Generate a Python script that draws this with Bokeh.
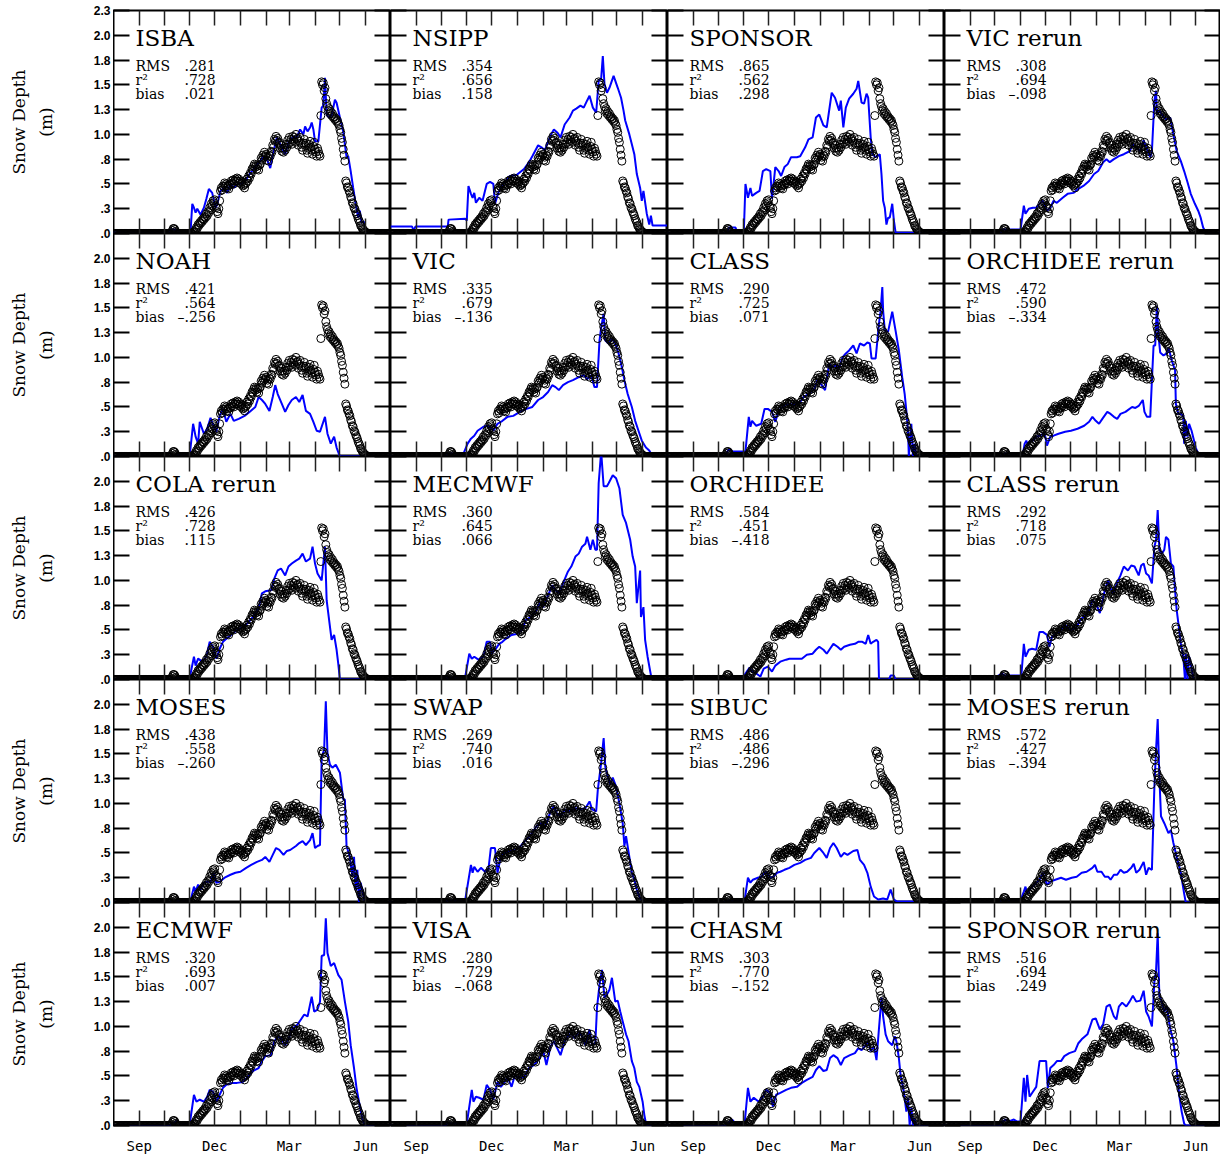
import math
from bokeh.plotting import figure
from bokeh.layouts import gridplot, row
from bokeh.models import LinearAxis, FixedTicker, Range1d, Label
from bokeh.core.properties import value
from bokeh.embed import file_html
from bokeh.resources import INLINE

# ---------------- axis definitions ----------------
month_ticks = [31, 61, 92, 122, 153, 184, 212, 243, 273, 304]   # days since 1 Aug
month_names = {31: "Sep", 122: "Dec", 212: "Mar", 304: "Jun"}
depth_ticks = [0.0, 0.25, 0.5, 0.75, 1.0, 1.25, 1.5, 1.75, 2.0, 2.25]
depth_tick_labels = [".0", ".3", ".5", ".8", "1.0", "1.3", "1.5", "1.8", "2.0", "2.3"]
y_title_lines = ["Snow Depth", "(m)"]

# ---------------- observed snow depth (m), daily from 1 Aug ----------------
obs_day = list(range(0, 335))
obs_depth = [
    0, 0, 0, 0, 0, 0, 0, 0, 0, 0,
    0, 0, 0, 0, 0, 0, 0, 0, 0, 0,
    0, 0, 0, 0, 0, 0, 0, 0, 0, 0,
    0, 0, 0, 0, 0, 0, 0, 0, 0, 0,
    0, 0, 0, 0, 0, 0, 0, 0, 0, 0,
    0, 0, 0, 0, 0, 0, 0, 0, 0, 0,
    0, 0, 0, 0, 0, 0, 0, 0, 0, 0,
    0.01, 0.03, 0.05, 0.05, 0.04, 0.02, 0.01, 0, 0, 0,
    0, 0, 0, 0, 0, 0, 0, 0, 0, 0,
    0, 0, 0, 0, 0, 0, 0.01, 0.02, 0.01, 0.04,
    0.06, 0.05, 0.09, 0.08, 0.11, 0.10, 0.13, 0.12, 0.15, 0.14,
    0.17, 0.16, 0.20, 0.18, 0.22, 0.21, 0.26, 0.24, 0.30, 0.28,
    0.33, 0.31, 0.34, 0.28, 0.26, 0.22, 0.20, 0.25, 0.33, 0.43,
    0.46, 0.44, 0.48, 0.47, 0.51, 0.48, 0.50, 0.46, 0.48, 0.45,
    0.50, 0.49, 0.53, 0.51, 0.54, 0.50, 0.53, 0.55, 0.53, 0.56,
    0.53, 0.55, 0.51, 0.53, 0.50, 0.52, 0.48, 0.49, 0.46, 0.50,
    0.51, 0.55, 0.53, 0.58, 0.56, 0.61, 0.60, 0.65, 0.64, 0.68,
    0.70, 0.67, 0.69, 0.65, 0.68, 0.64, 0.69, 0.70, 0.76, 0.74,
    0.79, 0.77, 0.82, 0.78, 0.80, 0.74, 0.77, 0.73, 0.79, 0.78,
    0.83, 0.82, 0.89, 0.87, 0.95, 0.93, 0.98, 0.94, 0.96, 0.91,
    0.92, 0.86, 0.89, 0.83, 0.86, 0.82, 0.86, 0.84, 0.90, 0.87,
    0.94, 0.90, 0.97, 0.92, 0.95, 0.90, 0.98, 0.94, 0.97, 0.92,
    1.00, 0.95, 0.96, 0.89, 0.93, 0.97, 0.91, 0.87, 0.84, 0.91,
    0.95, 0.89, 0.91, 0.84, 0.81, 0.86, 0.90, 0.93, 0.87, 0.84,
    0.80, 0.88, 0.92, 0.85, 0.82, 0.78, 0.86, 0.83, 0.80, 0.78,
    1.19, 1.53, 1.50, 1.52, 1.44, 1.47, 1.36, 1.31, 1.28, 1.24,
    1.26, 1.21, 1.23, 1.19, 1.21, 1.17, 1.18, 1.15, 1.16, 1.13,
    1.14, 1.11, 1.09, 1.05, 1.02, 0.96, 0.92, 0.85, 0.79, 0.73,
    0.53, 0.51, 0.47, 0.46, 0.43, 0.41, 0.37, 0.35, 0.31, 0.30,
    0.26, 0.25, 0.22, 0.20, 0.18, 0.15, 0.13, 0.11, 0.08, 0.07,
    0.05, 0.04, 0.03, 0.02, 0.01, 0.01, 0, 0, 0, 0,
    0, 0, 0, 0, 0, 0, 0, 0, 0, 0,
    0, 0, 0, 0, 0, 0, 0, 0, 0, 0,
    0, 0, 0, 0, 0,
]

# ---------------- model snow depth (day, m) ----------------
isba = [(0, 0.01), (66, 0.01), (68, 0.04), (73, 0.04), (76, 0.03), (93, 0.03), (95, 0.30), (97, 0.26), (99, 0.21),
        (101, 0.25), (105, 0.19), (109, 0.26), (112, 0.35), (115, 0.45), (119, 0.41), (123, 0.26), (125, 0.29),
        (129, 0.43), (133, 0.46), (137, 0.41), (141, 0.50), (145, 0.46), (151, 0.51), (155, 0.50), (161, 0.56),
        (165, 0.61), (169, 0.65), (173, 0.70), (177, 0.73), (181, 0.78), (185, 0.75), (189, 0.66), (193, 0.83),
        (197, 0.97), (201, 0.90), (207, 0.80), (211, 0.92), (217, 0.98), (221, 0.97), (225, 1.05), (229, 1.00),
        (231, 1.08), (234, 1.03), (237, 1.07), (239, 1.12), (241, 1.05), (243, 0.93), (247, 0.93), (251, 1.27),
        (253, 1.29), (255, 1.57), (257, 1.20), (260, 1.17), (263, 1.19), (267, 1.35), (269, 1.32), (273, 1.17),
        (277, 1.03), (281, 0.77), (283, 0.78), (286, 0.63), (289, 0.46), (292, 0.30), (295, 0.16), (297, 0.23),
        (299, 0.11), (302, 0.12), (305, 0.0), (334, 0.0)]
nsipp = [(0, 0.07), (26, 0.07), (28, 0.03), (30, 0.07), (69, 0.07), (70, 0.14), (90, 0.15), (92, 0.13), (94, 0.48),
         (97, 0.40), (99, 0.36), (101, 0.41), (103, 0.31), (107, 0.36), (111, 0.33), (116, 0.50), (120, 0.52),
         (124, 0.50), (126, 0.30), (130, 0.41), (134, 0.48), (144, 0.58), (152, 0.59), (161, 0.65), (167, 0.72),
         (171, 0.78), (178, 0.89), (182, 0.87), (186, 0.84), (193, 0.99), (197, 1.05), (201, 1.02), (205, 0.97),
         (210, 1.10), (216, 1.17), (220, 1.24), (224, 1.26), (229, 1.29), (233, 1.27), (237, 1.34), (240, 1.39),
         (244, 1.27), (248, 1.22), (251, 1.54), (254, 1.56), (256, 1.79), (258, 1.51), (261, 1.42), (264, 1.47),
         (269, 1.59), (274, 1.47), (278, 1.37), (281, 1.24), (283, 1.14), (288, 1.00), (291, 0.90), (294, 0.80),
         (297, 0.60), (301, 0.46), (303, 0.33), (305, 0.43), (309, 0.20), (312, 0.09), (314, 0.18), (316, 0.08),
         (334, 0.08)]
sponsor = [(0, 0), (72, 0), (74, 0.06), (82, 0.06), (84, 0.01), (92, 0.01), (94, 0.50), (97, 0.36), (100, 0.46),
           (102, 0.38), (107, 0.41), (111, 0.43), (115, 0.63), (119, 0.65), (124, 0.63), (126, 0.35), (130, 0.67),
           (134, 0.63), (137, 0.58), (141, 0.67), (145, 0.70), (149, 0.77), (156, 0.77), (160, 0.78), (166, 0.87),
           (170, 0.95), (175, 0.97), (179, 1.17), (183, 1.20), (188, 1.09), (192, 1.07), (198, 1.42), (202, 1.37),
           (207, 1.24), (209, 1.34), (212, 1.07), (215, 1.27), (219, 1.36), (224, 1.41), (228, 1.46), (230, 1.54),
           (234, 1.32), (237, 1.31), (240, 1.41), (242, 1.37), (245, 0.97), (247, 0.80), (251, 0.77), (256, 0.80),
           (258, 0.60), (260, 0.33), (262, 0.26), (264, 0.09), (266, 0.16), (268, 0.16), (271, 0.30), (273, 0.13),
           (275, 0.01), (334, 0)]
vic_rerun = [(0, 0), (68, 0), (70, 0.04), (92, 0.04), (96, 0.28), (98, 0.20), (102, 0.25), (107, 0.26), (111, 0.26),
             (115, 0.30), (119, 0.33), (124, 0.23), (128, 0.26), (132, 0.33), (136, 0.31), (143, 0.36), (149, 0.40),
             (156, 0.41), (162, 0.45), (168, 0.48), (175, 0.53), (181, 0.60), (186, 0.63), (192, 0.72), (196, 0.75),
             (200, 0.72), (205, 0.75), (211, 0.78), (217, 0.80), (224, 0.83), (228, 0.90), (232, 0.87), (237, 0.83),
             (241, 0.94), (245, 0.85), (249, 0.77), (251, 0.83), (254, 1.34), (256, 1.44), (257, 1.20), (260, 1.24),
             (264, 1.19), (268, 1.15), (273, 1.17), (277, 1.00), (281, 0.83), (286, 0.73), (290, 0.63), (294, 0.52),
             (298, 0.40), (303, 0.30), (307, 0.23), (310, 0.16), (313, 0.06), (315, 0.03), (320, 0), (334, 0)]
noah = [(0, 0), (74, 0), (75, 0.02), (92, 0.02), (96, 0.33), (99, 0.20), (102, 0.13), (104, 0.35), (109, 0.23),
        (113, 0.28), (117, 0.39), (121, 0.30), (124, 0.25), (128, 0.41), (132, 0.48), (136, 0.35), (141, 0.43),
        (145, 0.36), (151, 0.38), (158, 0.41), (164, 0.45), (171, 0.50), (175, 0.60), (179, 0.57), (183, 0.53),
        (188, 0.46), (192, 0.60), (195, 0.72), (198, 0.63), (203, 0.53), (207, 0.45), (211, 0.52), (215, 0.57),
        (220, 0.60), (224, 0.55), (228, 0.62), (232, 0.46), (237, 0.43), (241, 0.35), (245, 0.26), (249, 0.25),
        (255, 0.40), (258, 0.23), (262, 0.13), (266, 0.20), (269, 0.09), (273, 0), (334, 0)]
vic = [(0, 0), (67, 0), (68, 0.03), (88, 0.03), (93, 0.13), (97, 0.18), (101, 0.21), (105, 0.26), (112, 0.30),
       (116, 0.31), (120, 0.30), (124, 0.26), (129, 0.33), (135, 0.36), (141, 0.40), (148, 0.41), (156, 0.45),
       (164, 0.48), (171, 0.50), (178, 0.57), (184, 0.60), (190, 0.65), (195, 0.72), (199, 0.70), (203, 0.67),
       (208, 0.72), (214, 0.75), (220, 0.77), (227, 0.80), (233, 0.82), (237, 0.78), (242, 0.82), (246, 0.70),
       (249, 0.70), (252, 1.17), (254, 1.30), (257, 1.44), (259, 1.17), (263, 1.14), (267, 1.19), (271, 1.14),
       (275, 1.04), (279, 0.90), (282, 0.77), (286, 0.63), (291, 0.50), (295, 0.36), (299, 0.26), (303, 0.16),
       (308, 0.09), (312, 0.06), (316, 0), (334, 0)]
class_ = [(0, 0), (70, 0), (72, 0.05), (75, 0.08), (78, 0.05), (94, 0.05), (98, 0.40), (100, 0.30), (102, 0.36),
          (107, 0.31), (113, 0.33), (117, 0.48), (121, 0.48), (126, 0.45), (130, 0.35), (134, 0.46), (141, 0.52),
          (147, 0.53), (153, 0.52), (160, 0.55), (164, 0.60), (170, 0.63), (177, 0.68), (181, 0.78), (185, 0.73),
          (190, 0.67), (195, 0.94), (198, 0.90), (204, 0.92), (207, 0.89), (211, 1.00), (215, 1.04), (219, 1.07),
          (224, 1.12), (228, 1.04), (232, 1.14), (237, 1.12), (241, 1.15), (244, 1.14), (246, 0.99), (251, 0.99),
          (255, 1.34), (257, 1.47), (259, 1.71), (260, 1.47), (262, 1.27), (266, 1.26), (271, 1.46), (275, 1.27),
          (279, 1.07), (283, 0.80), (286, 0.63), (288, 0.46), (290, 0.26), (291, 0.0), (294, 0.33), (296, 0.0),
          (298, 0.13), (300, 0.0), (334, 0)]
orchidee_rerun = [(0, 0), (71, 0), (73, 0.03), (95, 0.03), (97, 0.13), (99, 0.16), (101, 0.11), (103, 0.15),
                  (107, 0.16), (111, 0.20), (115, 0.21), (120, 0.23), (122, 0.20), (124, 0.11), (128, 0.20),
                  (132, 0.21), (138, 0.23), (146, 0.25), (153, 0.26), (161, 0.28), (169, 0.31), (175, 0.35),
                  (179, 0.40), (183, 0.36), (187, 0.33), (191, 0.38), (197, 0.45), (201, 0.43), (205, 0.40),
                  (209, 0.38), (213, 0.43), (219, 0.45), (227, 0.50), (231, 0.49), (235, 0.51), (240, 0.57),
                  (242, 0.45), (245, 0.40), (249, 0.40), (251, 0.77), (253, 1.12), (255, 1.12), (257, 1.52),
                  (259, 1.22), (261, 1.05), (265, 1.02), (269, 1.04), (271, 1.10), (275, 0.97), (279, 0.87),
                  (280, 0.53), (283, 0.43), (286, 0.43), (289, 0.41), (290, 0.13), (292, 0.36), (294, 0.20),
                  (296, 0.33), (299, 0.26), (302, 0.16), (304, 0.09), (307, 0.03), (311, 0), (334, 0)]
cola_rerun = [(0, 0), (74, 0), (75, 0.02), (92, 0.02), (97, 0.23), (99, 0.14), (102, 0.21), (107, 0.18), (112, 0.23),
              (116, 0.38), (120, 0.33), (124, 0.21), (128, 0.31), (132, 0.38), (136, 0.41), (143, 0.46), (149, 0.50),
              (156, 0.53), (162, 0.57), (168, 0.63), (175, 0.72), (179, 0.87), (183, 0.89), (190, 0.90), (194, 1.02),
              (198, 1.10), (202, 1.12), (207, 1.05), (211, 1.14), (215, 1.17), (220, 1.20), (224, 1.22), (228, 1.27),
              (232, 1.19), (237, 1.22), (240, 1.34), (243, 1.17), (246, 1.07), (251, 1.00), (255, 1.34), (257, 0.80),
              (260, 0.60), (263, 0.40), (266, 0.45), (269, 0.30), (271, 0.16), (273, 0), (334, 0)]
mecmwf = [(0, 0), (60, 0), (61, 0.02), (90, 0.02), (95, 0.26), (98, 0.21), (101, 0.23), (106, 0.20), (112, 0.23),
          (116, 0.38), (120, 0.38), (122, 0.26), (127, 0.31), (131, 0.36), (135, 0.38), (139, 0.41), (146, 0.45),
          (152, 0.46), (159, 0.50), (163, 0.60), (169, 0.63), (176, 0.70), (180, 0.77), (184, 0.73), (191, 0.87),
          (195, 0.95), (199, 0.90), (204, 0.87), (208, 0.97), (214, 1.09), (218, 1.14), (223, 1.24), (227, 1.27),
          (231, 1.34), (235, 1.37), (237, 1.44), (241, 1.31), (244, 1.41), (247, 1.31), (249, 1.31), (251, 1.98),
          (254, 2.30), (257, 1.95), (261, 1.95), (263, 1.98), (268, 2.06), (272, 2.03), (276, 1.93), (280, 1.66),
          (284, 1.58), (289, 1.41), (292, 1.24), (295, 1.14), (297, 0.77), (301, 1.10), (302, 0.63), (305, 0.73),
          (307, 0.40), (310, 0.23), (313, 0.09), (315, 0), (334, 0)]
orchidee = [(0, 0), (90, 0), (94, 0.06), (99, 0.12), (102, 0.08), (107, 0.06), (112, 0.03), (116, 0.11), (121, 0.13),
            (126, 0.08), (130, 0.14), (136, 0.18), (143, 0.20), (147, 0.21), (153, 0.21), (162, 0.21), (168, 0.25),
            (175, 0.26), (179, 0.30), (183, 0.33), (188, 0.30), (192, 0.26), (196, 0.31), (200, 0.36), (205, 0.33),
            (209, 0.30), (213, 0.33), (220, 0.35), (226, 0.36), (230, 0.38), (235, 0.38), (239, 0.36), (242, 0.45),
            (245, 0.36), (248, 0.38), (252, 0.40), (254, 0.38), (255, 0), (267, 0), (269, 0.04), (273, 0.04),
            (275, 0), (334, 0)]
class_rerun = [(0, 0), (64, 0), (65, 0.04), (70, 0.06), (72, 0.04), (93, 0.04), (96, 0.36), (98, 0.23), (102, 0.30),
               (106, 0.31), (111, 0.30), (115, 0.48), (119, 0.48), (124, 0.45), (127, 0.33), (130, 0.43), (134, 0.46),
               (139, 0.48), (145, 0.55), (149, 0.53), (154, 0.50), (160, 0.53), (164, 0.60), (171, 0.65), (175, 0.70),
               (179, 0.80), (183, 0.77), (188, 0.67), (194, 0.90), (198, 1.00), (201, 0.92), (204, 0.87), (209, 0.98),
               (213, 1.05), (217, 1.14), (222, 1.10), (226, 1.15), (230, 1.14), (235, 1.05), (238, 1.15), (241, 1.17),
               (244, 1.07), (247, 1.05), (251, 0.97), (254, 1.34), (256, 1.41), (258, 1.71), (260, 1.31), (263, 1.27),
               (266, 1.31), (268, 1.44), (271, 1.41), (274, 1.17), (277, 1.14), (279, 0.90), (281, 0.70), (283, 0.57),
               (286, 0.36), (289, 0.23), (291, 0), (292, 0.26), (294, 0), (296, 0.23), (298, 0.16), (301, 0.02),
               (303, 0), (334, 0)]
moses = [(0, 0), (74, 0), (75, 0.02), (93, 0.02), (97, 0.16), (99, 0.11), (102, 0.18), (105, 0.13), (109, 0.20),
         (113, 0.21), (117, 0.21), (121, 0.30), (124, 0.20), (128, 0.21), (134, 0.25), (141, 0.28), (147, 0.30),
         (153, 0.31), (160, 0.35), (166, 0.38), (173, 0.41), (179, 0.43), (183, 0.46), (188, 0.41), (192, 0.48),
         (196, 0.55), (200, 0.53), (205, 0.48), (209, 0.52), (213, 0.53), (220, 0.57), (224, 0.60), (228, 0.62),
         (232, 0.58), (237, 0.63), (240, 0.70), (243, 0.55), (246, 0.57), (249, 0.58), (251, 1.47), (254, 1.54),
         (256, 2.03), (258, 1.51), (261, 1.39), (264, 1.36), (268, 1.39), (273, 1.31), (277, 1.04), (279, 1.04),
         (281, 0.57), (285, 0.46), (288, 0.26), (290, 0.46), (292, 0.13), (294, 0.33), (296, 0), (298, 0.20),
         (300, 0.13), (303, 0), (334, 0)]
swap = [(0, 0), (67, 0), (68, 0.02), (90, 0.02), (97, 0.38), (99, 0.30), (101, 0.36), (105, 0.31), (109, 0.35),
        (114, 0.31), (118, 0.33), (121, 0.55), (126, 0.55), (129, 0.30), (133, 0.46), (137, 0.50), (144, 0.52),
        (150, 0.53), (157, 0.57), (163, 0.63), (169, 0.68), (176, 0.77), (182, 0.80), (186, 0.75), (193, 0.92),
        (197, 0.97), (201, 0.89), (206, 0.87), (210, 0.94), (216, 0.92), (223, 0.95), (229, 0.94), (235, 0.95),
        (240, 1.02), (243, 0.94), (248, 0.92), (250, 1.14), (254, 1.41), (257, 1.66), (259, 1.37), (262, 1.27),
        (265, 1.19), (268, 1.26), (272, 1.17), (276, 1.00), (280, 0.80), (282, 0.57), (284, 0.67), (288, 0.46),
        (291, 0.30), (294, 0.23), (297, 0.13), (301, 0.04), (306, 0), (334, 0)]
sibuc = [(0, 0), (72, 0), (73, 0.02), (93, 0.02), (97, 0.25), (100, 0.20), (103, 0.23), (109, 0.25), (113, 0.26),
         (119, 0.31), (124, 0.25), (128, 0.26), (132, 0.30), (136, 0.31), (141, 0.33), (147, 0.35), (153, 0.38),
         (160, 0.40), (166, 0.43), (173, 0.45), (177, 0.50), (183, 0.55), (188, 0.50), (192, 0.45), (196, 0.55),
         (200, 0.60), (204, 0.55), (209, 0.46), (213, 0.50), (217, 0.48), (224, 0.52), (229, 0.53), (232, 0.43),
         (237, 0.38), (241, 0.30), (245, 0.16), (249, 0.06), (254, 0.03), (260, 0.04), (265, 0.03), (269, 0.13),
         (273, 0.03), (277, 0.01), (300, 0.01), (302, 0), (334, 0)]
moses_rerun = [(0, 0), (66, 0), (67, 0.02), (92, 0.02), (96, 0.11), (98, 0.16), (100, 0.09), (104, 0.14), (109, 0.18),
               (115, 0.23), (119, 0.30), (124, 0.18), (128, 0.21), (134, 0.23), (141, 0.25), (147, 0.23), (154, 0.25),
               (160, 0.26), (166, 0.30), (172, 0.31), (179, 0.35), (182, 0.38), (185, 0.31), (190, 0.31), (194, 0.26),
               (198, 0.26), (201, 0.23), (205, 0.28), (209, 0.28), (213, 0.33), (217, 0.30), (221, 0.31), (226, 0.35),
               (229, 0.39), (232, 0.30), (236, 0.33), (241, 0.41), (244, 0.28), (247, 0.35), (251, 0.33), (254, 1.17),
               (256, 1.54), (258, 1.85), (260, 1.27), (262, 0.87), (266, 0.80), (271, 0.70), (274, 0.73), (277, 0.60),
               (281, 0.46), (286, 0.30), (290, 0.09), (292, 0), (334, 0)]
ecmwf = [(0, 0), (68, 0), (70, 0.02), (72, 0.02), (77, 0.05), (80, 0.02), (92, 0.02), (97, 0.31), (100, 0.24),
         (104, 0.26), (109, 0.24), (113, 0.29), (116, 0.36), (120, 0.34), (124, 0.24), (128, 0.31), (132, 0.38),
         (136, 0.41), (143, 0.43), (149, 0.43), (156, 0.44), (162, 0.49), (168, 0.55), (175, 0.58), (179, 0.65),
         (183, 0.70), (190, 0.71), (194, 0.85), (198, 0.90), (202, 0.88), (207, 0.81), (211, 0.87), (215, 0.97),
         (222, 1.02), (226, 1.07), (230, 1.12), (234, 1.10), (239, 1.30), (242, 1.15), (246, 1.17), (249, 1.25),
         (251, 1.71), (254, 1.72), (256, 2.09), (258, 1.74), (262, 1.61), (266, 1.64), (271, 1.52), (275, 1.47),
         (279, 1.25), (283, 1.05), (286, 0.81), (290, 0.58), (293, 0.38), (296, 0.24), (300, 0.07), (303, 0), (334, 0)]
visa = [(0, 0), (67, 0), (68, 0.02), (92, 0.02), (98, 0.36), (100, 0.24), (103, 0.29), (107, 0.28), (112, 0.26),
        (116, 0.41), (120, 0.36), (124, 0.26), (129, 0.44), (133, 0.39), (137, 0.43), (141, 0.49), (146, 0.39),
        (150, 0.51), (154, 0.48), (161, 0.49), (167, 0.58), (173, 0.61), (180, 0.68), (184, 0.76), (188, 0.61),
        (193, 0.80), (197, 0.85), (201, 0.78), (205, 0.71), (210, 0.85), (214, 0.90), (218, 0.93), (222, 0.88),
        (227, 0.95), (231, 0.90), (235, 0.81), (240, 0.97), (243, 0.81), (247, 0.83), (249, 1.19), (252, 1.42),
        (255, 1.57), (258, 1.29), (261, 1.32), (264, 1.37), (267, 1.49), (271, 1.25), (274, 1.26), (277, 1.15),
        (280, 1.05), (284, 0.92), (287, 0.85), (291, 0.65), (294, 0.58), (297, 0.44), (300, 0.39), (304, 0.24),
        (306, 0.11), (308, 0.02), (310, 0), (334, 0)]
chasm = [(0, 0), (70, 0), (72, 0.02), (78, 0.06), (82, 0.02), (93, 0.02), (97, 0.38), (100, 0.24), (104, 0.28),
         (110, 0.24), (115, 0.29), (119, 0.36), (124, 0.33), (127, 0.19), (131, 0.31), (136, 0.33), (143, 0.36),
         (149, 0.38), (156, 0.39), (162, 0.43), (168, 0.46), (175, 0.49), (179, 0.56), (183, 0.60), (188, 0.55),
         (192, 0.56), (196, 0.68), (200, 0.71), (205, 0.68), (209, 0.61), (213, 0.68), (220, 0.71), (226, 0.73),
         (230, 0.78), (234, 0.76), (239, 0.81), (242, 0.85), (245, 0.75), (249, 0.80), (252, 0.66), (255, 0.98),
         (258, 1.29), (260, 1.10), (263, 0.92), (266, 0.85), (271, 0.81), (274, 0.90), (276, 0.85), (279, 0.68),
         (281, 0.51), (285, 0.34), (288, 0.14), (290, 0.28), (292, 0), (294, 0.18), (296, 0), (298, 0.07), (300, 0),
         (334, 0)]
sponsor_rerun = [(0, 0), (68, 0), (70, 0.04), (74, 0.06), (78, 0.04), (84, 0.06), (88, 0.04), (92, 0.04), (96, 0.48),
                 (98, 0.24), (100, 0.51), (103, 0.29), (107, 0.34), (111, 0.39), (115, 0.65), (119, 0.65), (123, 0.65),
                 (125, 0.38), (128, 0.58), (132, 0.61), (136, 0.65), (141, 0.65), (145, 0.70), (151, 0.73), (158, 0.75),
                 (162, 0.83), (166, 0.87), (173, 0.92), (179, 1.07), (183, 1.08), (188, 0.97), (192, 1.02), (196, 1.20),
                 (200, 1.22), (205, 1.10), (208, 1.07), (211, 1.20), (215, 1.24), (220, 1.20), (224, 1.25), (228, 1.31),
                 (232, 1.25), (237, 1.26), (241, 1.36), (244, 1.15), (247, 1.10), (251, 1.00), (254, 1.45), (256, 1.56),
                 (258, 1.94), (260, 1.31), (263, 1.25), (266, 1.15), (269, 1.20), (273, 0.98), (277, 0.85), (281, 0.58),
                 (284, 0.31), (287, 0.14), (290, 0.02), (292, 0), (334, 0)]

# ---------------- panel order and statistics ----------------
model_names = ["ISBA", "NSIPP", "SPONSOR", "VIC rerun",
               "NOAH", "VIC", "CLASS", "ORCHIDEE rerun",
               "COLA rerun", "MECMWF", "ORCHIDEE", "CLASS rerun",
               "MOSES", "SWAP", "SIBUC", "MOSES rerun",
               "ECMWF", "VISA", "CHASM", "SPONSOR rerun"]
model_series = [isba, nsipp, sponsor, vic_rerun,
                noah, vic, class_, orchidee_rerun,
                cola_rerun, mecmwf, orchidee, class_rerun,
                moses, swap, sibuc, moses_rerun,
                ecmwf, visa, chasm, sponsor_rerun]
rms_vals = [0.281, 0.354, 0.865, 0.308, 0.421, 0.335, 0.290, 0.472, 0.426, 0.360,
            0.584, 0.292, 0.438, 0.269, 0.486, 0.572, 0.320, 0.280, 0.303, 0.516]
r2_vals = [0.728, 0.656, 0.562, 0.694, 0.564, 0.679, 0.725, 0.590, 0.728, 0.645,
           0.451, 0.718, 0.558, 0.740, 0.486, 0.427, 0.693, 0.729, 0.770, 0.694]
bias_vals = [0.021, 0.158, 0.298, -0.098, -0.256, -0.136, 0.071, -0.334, 0.115, 0.066,
             -0.418, 0.075, -0.260, 0.016, -0.296, -0.394, 0.007, -0.068, -0.152, 0.249]

# ---------------- layout constants ----------------
N_ROWS, N_COLS = 5, 4
FRAME_W = [277, 277, 277, 276]
FRAME_H = 223
TOP_PAD, BOTTOM_PAD, LEFT_W = 10, 29, 113
X_START, X_END = 0, 334
Y_START, Y_END = 0.0, 2.25
PX_PER_M = FRAME_H / (Y_END - Y_START)
SERIF = "DejaVu Serif"


def fmt(v):
    s = "%.3f" % abs(v)
    s = s[1:] if s.startswith("0") else s
    return ("\u2013" + s) if v < 0 else s


def tick_style(ax, ticks, length, width, color):
    ax.ticker = FixedTicker(ticks=ticks, minor_ticks=[])
    ax.major_tick_in = length
    ax.major_tick_out = 0
    ax.minor_tick_in = 0
    ax.minor_tick_out = 0
    ax.minor_tick_line_color = None
    ax.major_tick_line_color = color
    ax.major_tick_line_width = width
    ax.axis_line_color = None


def hide_labels(ax, ticks):
    ax.major_label_overrides = {t: "" for t in ticks}
    ax.major_label_text_font_size = "0px"
    ax.major_label_standoff = 0


# ---------------- left strip: depth tick labels and y titles for all rows ----------------
stack_h = N_ROWS * (Y_END - Y_START)
left = figure(frame_width=LEFT_W, frame_height=TOP_PAD + N_ROWS * FRAME_H + BOTTOM_PAD,
              x_range=Range1d(0, LEFT_W),
              y_range=Range1d(-BOTTOM_PAD / PX_PER_M, stack_h + TOP_PAD / PX_PER_M),
              output_backend="svg", toolbar_location=None, tools="", title=None, min_border=0,
              x_axis_type=None, y_axis_type=None)
left.outline_line_color = None
left.background_fill_color = "white"
left.border_fill_color = "white"
lab_y, lab_text = [], []
for r in range(N_ROWS):
    base = (N_ROWS - 1 - r) * (Y_END - Y_START)
    for t, lab in zip(depth_ticks, depth_tick_labels):
        if r > 0 and t == Y_END:
            continue   # same place as the ".0" of the panel above
        lab_y.append(base + t)
        lab_text.append(lab)
left.text(x=[LEFT_W - 3] * len(lab_y), y=lab_y, text=lab_text,
          text_font=value("Liberation Sans"), text_font_style="bold", text_font_size="12px",
          text_color="black", text_align="right", text_baseline="middle")
row_mid = [(N_ROWS - 1 - r) * (Y_END - Y_START) + (Y_END - Y_START) / 2 for r in range(N_ROWS)]
for line_text, xpos in zip(y_title_lines, (18, 45)):
    left.text(x=[xpos] * N_ROWS, y=row_mid, text=[line_text] * N_ROWS, angle=math.pi / 2,
              text_font=value(SERIF), text_font_size="17px", text_color="black",
              text_align="center", text_baseline="middle")

# ---------------- the 20 panels ----------------
figs = []
for i, name in enumerate(model_names):
    r, c = divmod(i, N_COLS)
    fw = FRAME_W[c]
    days = [d for d, _ in model_series[i]]
    depth = [v for _, v in model_series[i]]

    p = figure(frame_width=fw, frame_height=FRAME_H,
               x_range=Range1d(X_START, X_END), y_range=Range1d(Y_START, Y_END),
               output_backend="svg", toolbar_location=None, tools="", title=None, min_border=0)
    p.min_border_left = 0
    p.min_border_right = 0
    p.min_border_top = TOP_PAD if r == 0 else 0
    p.min_border_bottom = BOTTOM_PAD if r == N_ROWS - 1 else 0
    p.xgrid.visible = False
    p.ygrid.visible = False
    p.outline_line_color = "black"
    p.outline_line_width = 2
    p.background_fill_color = "white"
    p.border_fill_color = "white"

    # bottom axis
    xa = p.xaxis[0]
    tick_style(xa, month_ticks, 15, 1.5, "#222222")
    if r == N_ROWS - 1:
        xa.major_label_overrides = {t: month_names.get(t, "") for t in month_ticks}
        xa.major_label_text_font = "DejaVu Sans Mono"
        xa.major_label_text_font_size = "14px"
        xa.major_label_text_color = "black"
        xa.major_label_standoff = 12
    else:
        hide_labels(xa, month_ticks)
    # top axis
    ta = LinearAxis()
    tick_style(ta, month_ticks, 15, 1.5, "#222222")
    hide_labels(ta, month_ticks)
    p.add_layout(ta, "above")
    # left and right axes (ticks only; the labels are in the left strip)
    ya = p.yaxis[0]
    tick_style(ya, depth_ticks, 16, 2, "black")
    hide_labels(ya, depth_ticks)
    ra = LinearAxis()
    tick_style(ra, depth_ticks, 16, 2, "black")
    hide_labels(ra, depth_ticks)
    p.add_layout(ra, "right")

    # data
    p.line(days, depth, line_color="#0000ff", line_width=2)
    p.scatter(obs_day, obs_depth, marker="circle", size=8, fill_color=None,
              line_color="black", line_width=1)

    # texts (positioned in pixels from the frame's top-left corner)
    def px_x(px):
        return X_START + px * (X_END - X_START) / fw

    def px_y(px):
        return Y_END - px * (Y_END - Y_START) / FRAME_H

    p.add_layout(Label(x=px_x(22), y=px_y(27), text=name, text_font=SERIF,
                       text_font_size="23px", text_color="black", text_baseline="alphabetic"))
    stats = [("RMS", rms_vals[i]), ("r\u00b2", r2_vals[i]), ("bias", bias_vals[i])]
    for k, (lab, val) in enumerate(stats):
        yy = px_y(55 + 14 * k)
        p.add_layout(Label(x=px_x(22), y=yy, text=lab, text_font=SERIF, text_font_size="14px",
                           text_color="black", text_baseline="alphabetic"))
        p.add_layout(Label(x=px_x(64 if val < 0 else 71), y=yy, text=fmt(val), text_font=SERIF,
                           text_font_size="14px", text_color="black", text_baseline="alphabetic"))
    figs.append(p)

grid = gridplot([figs[j * N_COLS:(j + 1) * N_COLS] for j in range(N_ROWS)], toolbar_location=None)
page = row(left, grid)
open("out.html", "w").write(file_html(page, INLINE, "Snow depth"))
